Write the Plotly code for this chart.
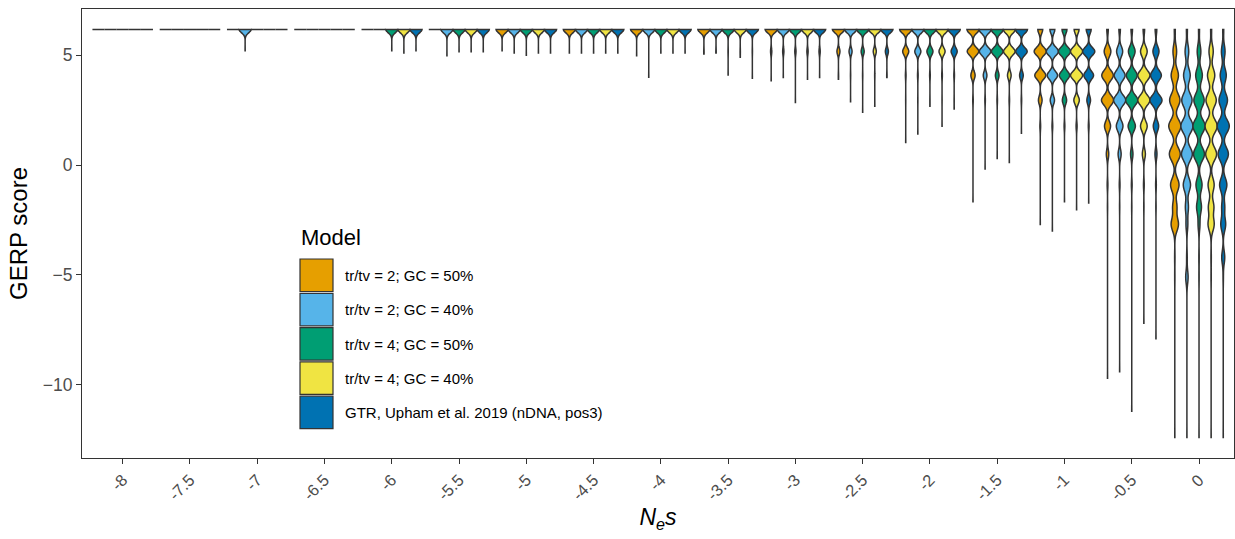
import numpy as np
import plotly.graph_objects as go

# ---------------- data ----------------
CATEGORIES = ["-8", "-7.5", "-7", "-6.5", "-6", "-5.5", "-5", "-4.5", "-4",
              "-3.5", "-3", "-2.5", "-2", "-1.5", "-1", "-0.5", "0"]
MODELS = ["tr/tv = 2; GC = 50%", "tr/tv = 2; GC = 40%", "tr/tv = 4; GC = 50%",
          "tr/tv = 4; GC = 40%", "GTR, Upham et al. 2019 (nDNA, pos3)"]
COLORS = ["#E69F00", "#56B4E9", "#009E73", "#F0E442", "#0072B2"]

# discrete GERP score levels (top to bottom)
LEVELS = [6.17, 5.17, 4.08, 2.95, 1.77, 0.5, -0.9, -1.9, -2.7, -4.2, -5.1]

# relative counts at each level, one row per N_e s category
COUNTS_M0 = [
    [100, 0, 0, 0, 0, 0, 0, 0, 0, 0, 0],
    [100, 0, 0, 0, 0, 0, 0, 0, 0, 0, 0],
    [100, 0, 0, 0, 0, 0, 0, 0, 0, 0, 0],
    [100, 0, 0, 0, 0, 0, 0, 0, 0, 0, 0],
    [100, 0, 0, 0, 0, 0, 0, 0, 0, 0, 0],
    [100, 0, 0, 0, 0, 0, 0, 0, 0, 0, 0],
    [100, 0, 0, 0, 0, 0, 0, 0, 0, 0, 0],
    [100, 0, 0, 0, 0, 0, 0, 0, 0, 0, 0],
    [100, 0, 0, 0, 0, 0, 0, 0, 0, 0, 0],
    [100, 2, 0, 0, 0, 0, 0, 0, 0, 0, 0],
    [100, 10, 0, 0, 0, 0, 0, 0, 0, 0, 0],
    [100, 25, 2, 0, 0, 0, 0, 0, 0, 0, 0],
    [100, 50, 5, 1, 0, 0, 0, 0, 0, 0, 0],
    [100, 95, 35, 4, 0, 0, 0, 0, 0, 0, 0],
    [40, 100, 90, 30, 6, 0, 0, 0, 0, 0, 0],
    [12, 55, 95, 100, 50, 20, 6, 2, 0, 0, 0],
    [8, 30, 60, 85, 100, 90, 70, 35, 60, 3, 2],
]
COUNTS_M1 = [
    [100, 0, 0, 0, 0, 0, 0, 0, 0, 0, 0],
    [100, 0, 0, 0, 0, 0, 0, 0, 0, 0, 0],
    [100, 0, 0, 0, 0, 0, 0, 0, 0, 0, 0],
    [100, 0, 0, 0, 0, 0, 0, 0, 0, 0, 0],
    [100, 0, 0, 0, 0, 0, 0, 0, 0, 0, 0],
    [100, 0, 0, 0, 0, 0, 0, 0, 0, 0, 0],
    [100, 0, 0, 0, 0, 0, 0, 0, 0, 0, 0],
    [100, 0, 0, 0, 0, 0, 0, 0, 0, 0, 0],
    [100, 0, 0, 0, 0, 0, 0, 0, 0, 0, 0],
    [100, 2, 0, 0, 0, 0, 0, 0, 0, 0, 0],
    [100, 10, 0, 0, 0, 0, 0, 0, 0, 0, 0],
    [100, 25, 2, 0, 0, 0, 0, 0, 0, 0, 0],
    [100, 50, 5, 1, 0, 0, 0, 0, 0, 0, 0],
    [100, 95, 30, 4, 0, 0, 0, 0, 0, 0, 0],
    [40, 100, 85, 35, 6, 0, 0, 0, 0, 0, 0],
    [12, 50, 90, 100, 55, 25, 6, 2, 0, 0, 0],
    [8, 30, 55, 85, 100, 90, 60, 25, 15, 5, 20],
]
COUNTS_M2 = [
    [100, 0, 0, 0, 0, 0, 0, 0, 0, 0, 0],
    [100, 0, 0, 0, 0, 0, 0, 0, 0, 0, 0],
    [100, 0, 0, 0, 0, 0, 0, 0, 0, 0, 0],
    [100, 0, 0, 0, 0, 0, 0, 0, 0, 0, 0],
    [100, 0, 0, 0, 0, 0, 0, 0, 0, 0, 0],
    [100, 0, 0, 0, 0, 0, 0, 0, 0, 0, 0],
    [100, 0, 0, 0, 0, 0, 0, 0, 0, 0, 0],
    [100, 0, 0, 0, 0, 0, 0, 0, 0, 0, 0],
    [100, 0, 0, 0, 0, 0, 0, 0, 0, 0, 0],
    [100, 2, 0, 0, 0, 0, 0, 0, 0, 0, 0],
    [100, 10, 0, 0, 0, 0, 0, 0, 0, 0, 0],
    [100, 25, 2, 0, 0, 0, 0, 0, 0, 0, 0],
    [100, 50, 5, 1, 0, 0, 0, 0, 0, 0, 0],
    [100, 95, 30, 4, 0, 0, 0, 0, 0, 0, 0],
    [40, 100, 85, 35, 6, 0, 0, 0, 0, 0, 0],
    [12, 55, 90, 100, 60, 20, 6, 2, 0, 0, 0],
    [8, 30, 55, 85, 100, 90, 50, 40, 15, 3, 2],
]
COUNTS_M3 = [
    [100, 0, 0, 0, 0, 0, 0, 0, 0, 0, 0],
    [100, 0, 0, 0, 0, 0, 0, 0, 0, 0, 0],
    [100, 0, 0, 0, 0, 0, 0, 0, 0, 0, 0],
    [100, 0, 0, 0, 0, 0, 0, 0, 0, 0, 0],
    [100, 0, 0, 0, 0, 0, 0, 0, 0, 0, 0],
    [100, 0, 0, 0, 0, 0, 0, 0, 0, 0, 0],
    [100, 0, 0, 0, 0, 0, 0, 0, 0, 0, 0],
    [100, 0, 0, 0, 0, 0, 0, 0, 0, 0, 0],
    [100, 0, 0, 0, 0, 0, 0, 0, 0, 0, 0],
    [100, 2, 0, 0, 0, 0, 0, 0, 0, 0, 0],
    [100, 10, 0, 0, 0, 0, 0, 0, 0, 0, 0],
    [100, 25, 2, 0, 0, 0, 0, 0, 0, 0, 0],
    [100, 50, 5, 1, 0, 0, 0, 0, 0, 0, 0],
    [100, 95, 30, 4, 0, 0, 0, 0, 0, 0, 0],
    [40, 100, 100, 45, 8, 0, 0, 0, 0, 0, 0],
    [12, 55, 100, 100, 55, 25, 6, 2, 0, 0, 0],
    [8, 35, 60, 85, 100, 90, 50, 45, 50, 3, 2],
]
COUNTS_M4 = [
    [100, 0, 0, 0, 0, 0, 0, 0, 0, 0, 0],
    [100, 0, 0, 0, 0, 0, 0, 0, 0, 0, 0],
    [100, 0, 0, 0, 0, 0, 0, 0, 0, 0, 0],
    [100, 0, 0, 0, 0, 0, 0, 0, 0, 0, 0],
    [100, 0, 0, 0, 0, 0, 0, 0, 0, 0, 0],
    [100, 0, 0, 0, 0, 0, 0, 0, 0, 0, 0],
    [100, 0, 0, 0, 0, 0, 0, 0, 0, 0, 0],
    [100, 0, 0, 0, 0, 0, 0, 0, 0, 0, 0],
    [100, 0, 0, 0, 0, 0, 0, 0, 0, 0, 0],
    [100, 2, 0, 0, 0, 0, 0, 0, 0, 0, 0],
    [100, 10, 0, 0, 0, 0, 0, 0, 0, 0, 0],
    [100, 25, 2, 0, 0, 0, 0, 0, 0, 0, 0],
    [100, 50, 5, 1, 0, 0, 0, 0, 0, 0, 0],
    [100, 95, 30, 4, 0, 0, 0, 0, 0, 0, 0],
    [40, 100, 80, 30, 6, 0, 0, 0, 0, 0, 0],
    [12, 45, 80, 90, 40, 15, 5, 2, 0, 0, 0],
    [8, 30, 50, 70, 100, 85, 60, 25, 40, 25, 3],
]

# lowest observed GERP score per category (end of the thin tail)
TAILS_M0 = [6.17, 6.17, 6.17, 6.17, 6.17, 6.17, 5.2, 5.1, 4.97, 5.05, 3.83, 3.9, 1.03, -1.67, -2.7, -9.7, -12.4]
TAILS_M1 = [6.17, 6.17, 5.2, 6.17, 6.17, 4.97, 5.1, 5.1, 4.0, 5.1, 3.98, 2.88, 1.41, -0.18, -3.0, -9.4, -12.4]
TAILS_M2 = [6.17, 6.17, 6.17, 6.17, 5.2, 5.15, 5.0, 5.1, 5.1, 4.1, 2.85, 2.4, 2.67, 0.3, -1.67, -11.2, -12.4]
TAILS_M3 = [6.17, 6.17, 6.17, 6.17, 5.1, 5.15, 5.1, 5.1, 5.1, 4.9, 3.9, 2.67, 1.76, 0.12, -2.03, -7.2, -12.4]
TAILS_M4 = [6.17, 6.17, 6.17, 6.17, 5.2, 5.15, 5.1, 5.1, 5.1, 3.95, 3.98, 3.98, 2.55, 1.45, -1.73, -7.9, -12.4]

# kernel bandwidth per category
BANDWIDTH = [0.15, 0.15, 0.15, 0.15, 0.15, 0.15, 0.15, 0.15, 0.15,
             0.15, 0.15, 0.15, 0.16, 0.17, 0.18, 0.22, 0.3]

COUNTS = [COUNTS_M0, COUNTS_M1, COUNTS_M2, COUNTS_M3, COUNTS_M4]
TAILS = [TAILS_M0, TAILS_M1, TAILS_M2, TAILS_M3, TAILS_M4]

# ---------------- styling ----------------
FONT = "Liberation Sans, Arial, sans-serif"
OUTLINE = "#333333"
W, H = 1235, 539
PL, PR, PT, PB = 82, 1, 9, 81   # plot-area margins in px

fig = go.Figure()
for m, (name, color) in enumerate(zip(MODELS, COLORS)):
    for c, cat in enumerate(CATEGORIES):
        vals = np.concatenate([np.repeat(LEVELS, COUNTS[m][c]), [TAILS[m][c]]])
        constant = float(np.ptp(vals)) == 0.0
        kw = {} if constant else {"bandwidth": BANDWIDTH[c]}
        fig.add_trace(go.Violin(
            x=[cat] * len(vals), y=vals,
            name=name, legendgroup=name, showlegend=False,
            offsetgroup=name, alignmentgroup="all",
            scalegroup=f"{m}_{c}", scalemode="width", spanmode="hard",
            line=dict(color=OUTLINE, width=1.5), fillcolor=color, opacity=1,
            points=False, box_visible=False, meanline_visible=False,
            hoverinfo="skip", **kw))

fig.update_layout(
    width=W, height=H,
    margin=dict(l=PL, r=PR, t=PT, b=PB, autoexpand=False),
    paper_bgcolor="white", plot_bgcolor="white",
    violinmode="group", violingap=0.1, violingroupgap=0,
    showlegend=False,
    font=dict(family=FONT, color="#000000"),
)
fig.update_xaxes(
    type="category", categoryorder="array", categoryarray=CATEGORIES,
    range=[-0.605, 16.52], showgrid=False, zeroline=False,
    showline=True, mirror=True, linecolor=OUTLINE, linewidth=1,
    ticks="outside", ticklen=5, tickcolor=OUTLINE, tickwidth=1,
    tickangle=-45, tickfont=dict(size=16.5, color="#4D4D4D", family=FONT),
    title=dict(text="<i>N<sub>e</sub>s</i>", font=dict(size=23, family=FONT), standoff=6),
    automargin=False,
)
fig.update_yaxes(
    range=[-13.33, 7.1], tickvals=[-10, -5, 0, 5],
    showgrid=False, zeroline=False,
    showline=True, mirror=True, linecolor=OUTLINE, linewidth=1,
    ticks="outside", ticklen=5, tickcolor=OUTLINE, tickwidth=1,
    tickfont=dict(size=17.5, color="#4D4D4D", family=FONT),
    title=dict(text="GERP score", font=dict(size=24, family=FONT), standoff=8),
    automargin=False,
)

# ---------------- manual legend (inside panel) ----------------
pw, ph = W - PL - PR, H - PT - PB
def px(x):
    return (x - PL) / pw
def py(y):
    return (H - PB - y) / ph

fig.add_annotation(text="Model", x=px(299), y=py(237), xref="paper", yref="paper",
                   xanchor="left", yanchor="middle", showarrow=False,
                   font=dict(size=22, family=FONT, color="#000000"))
for i, (name, color) in enumerate(zip(MODELS, COLORS)):
    y0 = 259 + i * 34.3
    fig.add_shape(type="rect", xref="paper", yref="paper",
                  x0=px(300), x1=px(333), y0=py(y0), y1=py(y0 + 32.5),
                  fillcolor=color, line=dict(color=OUTLINE, width=1.2))
    fig.add_annotation(text=name, x=px(343), y=py(y0 + 16.5), xref="paper", yref="paper",
                       xanchor="left", yanchor="middle", showarrow=False,
                       font=dict(size=15, family=FONT, color="#000000"))

fig.write_html("out.html")
